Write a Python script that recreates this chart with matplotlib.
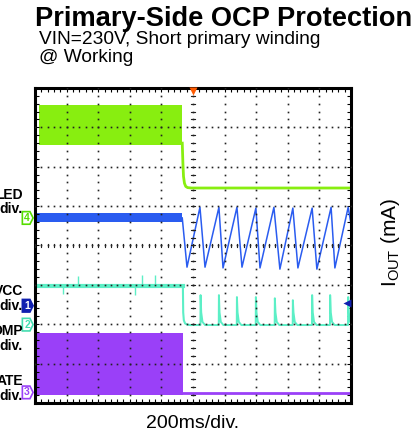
import numpy as np
import matplotlib.pyplot as plt
from matplotlib.patches import Polygon

plt.rcParams['font.family'] = ['Liberation Sans', 'DejaVu Sans']
plt.rcParams['mathtext.fontset'] = 'custom'
plt.rcParams['mathtext.rm'] = 'Liberation Sans'

# screen is 10 x 8 divisions, 200 ms/div; fault happens at ~4.68 div
t_fault = 4.68

# ch4 green: switching band, then settled level
green_band_t = [0.12, 4.66]
green_band_lo = [6.56, 6.56]
green_band_hi = [7.58, 7.58]
green_post_t = [4.66, 4.68, 4.70, 4.73, 4.77, 4.83, 4.95, 10.0]
green_post_y = [6.60, 6.10, 5.75, 5.58, 5.50, 5.47, 5.46, 5.46]

# blue: ripple band, then sawtooth (valley/peak points)
blue_band_t = [0.07, 4.66]
blue_band_lo = [4.60, 4.60]
blue_band_hi = [4.82, 4.82]
blue_saw_t = [4.66, 4.81, 5.22, 5.38, 5.82, 5.95, 6.39, 6.55, 6.99, 7.12,
              7.56, 7.75, 8.16, 8.32, 8.77, 8.92, 9.37, 9.49, 9.91, 10.0]
blue_saw_y = [4.70, 3.45, 4.97, 3.45, 4.97, 3.43, 4.97, 3.45, 4.95, 3.43,
              4.97, 3.40, 4.95, 3.43, 4.95, 3.40, 4.97, 3.43, 4.97, 4.55]

# teal (VCC)
teal_pre_t = [0.07, 4.68]
teal_pre_y = [2.97, 2.97]
teal_pre_spike_t = [0.89, 1.36, 3.16, 3.39, 3.80]
teal_pre_spike_y = [2.78, 3.23, 2.74, 3.25, 3.25]
teal_drop_t = [4.68, 4.69, 4.71, 4.75, 4.82, 4.92]
teal_drop_y = [2.97, 2.30, 2.10, 2.02, 1.99, 1.98]
teal_post_y = 1.98
teal_spike_t = [5.24, 5.82, 6.39, 6.99, 7.59, 8.16, 8.77, 9.34, 9.91]
teal_spike_y = [2.74, 2.74, 2.69, 2.69, 2.66, 2.61, 2.74, 2.74, 2.69]

# purple (GATE)
gate_pre_t = [0.07, 4.68]
gate_pre_lo = [0.20, 0.20]
gate_pre_hi = [1.79, 1.79]
gate_post_t = [4.68, 10.0]
gate_post_y = [0.25, 0.25]

# channel markers: label, level, colour, filled
ch_marks = [('4', 4.70, '#55dd00', False), ('1', 2.47, '#1020b0', True),
            ('2', 1.99, '#44ddb0', False), ('3', 0.27, '#9a40f8', False)]

c_green = '#88ee10'
c_blue = '#2a5cf0'
c_teal = '#5cefc6'
c_purple = '#9a40f8'

fig = plt.figure(figsize=(4.17, 4.36), dpi=100)
ax = fig.add_axes([35/417, 33/436, 316/417, 315/436])
ax.set_xlim(0, 10)
ax.set_ylim(0, 8)

# traces
ax.fill_between(green_band_t, green_band_lo, green_band_hi, color=c_green, lw=0)
ax.plot(green_post_t, green_post_y, color=c_green, lw=2)

ax.fill_between(blue_band_t, blue_band_lo, blue_band_hi, color=c_blue, lw=0)
ax.plot(blue_saw_t, blue_saw_y, color=c_blue, lw=1.1)

ax.plot(teal_pre_t, teal_pre_y, color=c_teal, lw=3)
ax.vlines(teal_pre_spike_t, teal_pre_y[0], teal_pre_spike_y, color=c_teal, lw=1)
ax.plot(teal_drop_t, teal_drop_y, color=c_teal, lw=1.5)
tt, ty = [teal_drop_t[-1]], [teal_post_y]
for ts, ys in zip(teal_spike_t, teal_spike_y):
    tt += [ts - 0.005, ts, ts + 0.02, ts + 0.06, ts + 0.14]
    ty += [teal_post_y, ys, 2.30, 2.06, teal_post_y]
tt.append(10.0)
ty.append(teal_post_y)
ax.plot(tt, ty, color=c_teal, lw=1.4)

ax.fill_between(gate_pre_t, gate_pre_lo, gate_pre_hi, color=c_purple, lw=0)
ax.plot(gate_post_t, gate_post_y, color=c_purple, lw=2)

# graticule drawn over the traces
dot_y = np.arange(0, 8.01, 0.2)
dot_x = np.arange(0, 10.01, 0.2)
for gx in range(1, 10):
    ax.plot([gx] * len(dot_y), dot_y, ls='none', marker='s', ms=1.2,
            mec='none', color='#222222', zorder=5)
for gy in range(1, 8):
    ax.plot(dot_x, [gy] * len(dot_x), ls='none', marker='s', ms=1.2,
            mec='none', color='#222222', zorder=5)
for yy in dot_y:
    ax.plot([4.94, 5.06], [yy, yy], color='#222222', lw=0.8, zorder=5)
for xx in dot_x:
    ax.plot([xx, xx], [3.95, 4.05], color='#222222', lw=0.8, zorder=5)

ax.set_xticks([])
ax.set_yticks([])
ax.set_xticks(dot_x, minor=True)
ax.set_yticks(dot_y, minor=True)
ax.tick_params(which='minor', direction='in', length=3, width=0.8,
               top=True, right=True, labelbottom=False, labelleft=False)
for s in ax.spines.values():
    s.set_linewidth(2.2)

# trigger and level markers
ax.plot([5.0], [7.93], marker='v', ms=6, color='#ff5a00', mec='none',
        clip_on=False, zorder=6)
ax.plot([9.87], [2.54], marker='<', ms=6, color='#1020b0', mec='none',
        clip_on=False, zorder=6)

for lab, lev, col, filled in ch_marks:
    poly = Polygon([(-0.40, lev - 0.16), (-0.16, lev - 0.16), (-0.06, lev),
                    (-0.16, lev + 0.16), (-0.40, lev + 0.16)], closed=True,
                   fc=col if filled else 'white', ec=col, lw=1.2,
                   clip_on=False, zorder=6)
    ax.add_patch(poly)
    ax.text(-0.25, lev, lab, color='white' if filled else col, fontsize=7.5,
            fontweight='bold', ha='center', va='center', zorder=7)

# channel labels on the left, cut by the image edge as in the source
side = [('LED', 195), ('div.', 209), ('VCC', 291), ('div.', 305.5),
        ('OMP', 331), ('div.', 346), ('ATE', 381), ('div.', 395.5)]
for txt, py in side:
    fig.text(23/417, 1 - py/436, txt, fontsize=10, fontweight='bold',
             ha='right', va='center')

fig.text(35/417, 1 - 26/436, 'Primary-Side OCP Protection', fontsize=19.6,
         fontweight='bold', va='baseline')
fig.text(39/417, 1 - 44/436, 'VIN=230V, Short primary winding', fontsize=13.8,
         va='baseline')
fig.text(39/417, 1 - 62/436, '@ Working', fontsize=13.8, va='baseline')
fig.text(192.5/417, 1 - 428/436, '200ms/div.', fontsize=14, ha='center',
         va='baseline')
fig.text(390/417, 1 - 242/436, r'I$_{\mathrm{OUT}}$ (mA)', fontsize=15,
         rotation=90, ha='center', va='center')

fig.savefig('out.png', dpi=100)
